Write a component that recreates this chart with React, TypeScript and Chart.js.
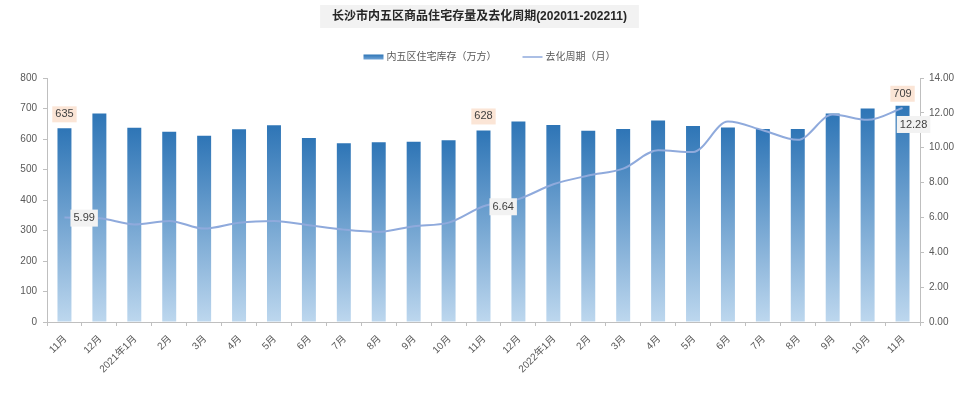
import React, { useEffect, useRef } from "react";
import { Chart, registerables } from "chart.js";

Chart.register(...registerables);

const titleText = "长沙市内五区商品住宅存量及去化周期(202011-202211)";
const barLabel = "内五区住宅库存（万方）";
const lineLabel = "去化周期（月）";
const categories = [
  "11月", "12月", "2021年1月", "2月", "3月", "4月", "5月", "6月", "7月", "8月", "9月", "10月",
  "11月", "12月", "2022年1月", "2月", "3月", "4月", "5月", "6月", "7月", "8月", "9月", "10月", "11月",
];
const inventory = [
  635, 684, 637, 624, 611, 632, 645, 603, 586, 589, 591, 596,
  628, 657, 646, 627, 633, 661, 643, 638, 633, 633, 684, 700, 709,
];
const cycle = [
  5.99, 5.95, 5.6, 5.8, 5.36, 5.7, 5.8, 5.55, 5.3, 5.17, 5.5, 5.7,
  6.64, 7.05, 7.9, 8.4, 8.8, 9.85, 9.75, 11.5, 11.0, 10.45, 11.9, 11.6, 12.28,
];
const labeledIndices = [0, 12, 24];
const leftMax = 800;
const leftStep = 100;
const rightMax = 14;
const rightStep = 2;

const FONT = "'Liberation Sans', Arial, 'Noto Sans CJK SC', sans-serif";
const TEXT = "#595959";
const AXIS = "#bfbfbf";
const BAR_TOP = "#2e75b6";
const BAR_BOTTOM = "#bdd7ee";
const LINE = "#8faadc";

const overlayPlugin = {
  id: "overlay",
  afterDraw(chart: any) {
    const ctx = chart.ctx as CanvasRenderingContext2D;
    const W = chart.width;
    ctx.save();
    // title
    ctx.font = `bold 12px ${FONT}`;
    const tw = ctx.measureText(titleText).width;
    const cx = W / 2 - 7;
    ctx.fillStyle = "#f2f2f2";
    ctx.fillRect(cx - tw / 2 - 12, 5, tw + 24, 23);
    ctx.fillStyle = "#262626";
    ctx.textAlign = "center";
    ctx.textBaseline = "middle";
    ctx.fillText(titleText, cx, 17);

    // legend
    ctx.font = `10px ${FONT}`;
    const w1 = ctx.measureText(barLabel).width;
    const w2 = ctx.measureText(lineLabel).width;
    const sw = 20;
    const gap = 26;
    const total = sw + 3 + w1 + gap + sw + 3 + w2;
    let x = W / 2 + 3 - total / 2;
    const ly = 57;
    const lg = ctx.createLinearGradient(0, ly - 2.5, 0, ly + 2.5);
    lg.addColorStop(0, "#2e75b6");
    lg.addColorStop(1, "#6fa3d6");
    ctx.fillStyle = lg;
    ctx.fillRect(x, ly - 2.5, sw, 5);
    x += sw + 3;
    ctx.fillStyle = TEXT;
    ctx.textAlign = "left";
    ctx.fillText(barLabel, x, ly);
    x += w1 + gap;
    ctx.strokeStyle = LINE;
    ctx.lineWidth = 1.5;
    ctx.beginPath();
    ctx.moveTo(x, ly);
    ctx.lineTo(x + sw, ly);
    ctx.stroke();
    x += sw + 3;
    ctx.fillText(lineLabel, x, ly);

    // data labels
    const barMeta = chart.getDatasetMeta(0);
    const lineMeta = chart.getDatasetMeta(1);
    ctx.font = `11px ${FONT}`;
    ctx.textAlign = "center";
    ctx.textBaseline = "middle";
    labeledIndices.forEach((i) => {
      const bar = barMeta.data[i];
      const t1 = String(inventory[i]);
      const bw = ctx.measureText(t1).width + 6;
      const bh = 16;
      const by = bar.y - 6 - bh / 2 - (i === labeledIndices[labeledIndices.length - 1] ? -2 : 0);
      ctx.fillStyle = "#fbe5d6";
      ctx.fillRect(bar.x - bw / 2, by - bh / 2, bw, bh);
      ctx.fillStyle = "#404040";
      ctx.fillText(t1, bar.x, by);

      const pt = lineMeta.data[i];
      const t2 = cycle[i].toFixed(2);
      const pw = ctx.measureText(t2).width + 6;
      const isLast = i === categories.length - 1;
      const px = isLast ? pt.x + 11 : pt.x + 6 + pw / 2;
      const py = isLast ? pt.y + 16 : pt.y;
      ctx.fillStyle = "#f2f2f2";
      ctx.fillRect(px - pw / 2, py - bh / 2, pw, bh + 1);
      ctx.fillStyle = "#404040";
      ctx.fillText(t2, px, py + 0.5);
    });
    ctx.restore();
  },
};

export default function App() {
  const ref = useRef<HTMLCanvasElement>(null);
  useEffect(() => {
    if (!ref.current) return;
    const chart = new Chart(ref.current, {
      type: "bar",
      data: {
        labels: categories,
        datasets: [
          {
            type: "bar",
            label: barLabel,
            data: inventory,
            yAxisID: "y",
            order: 1,
            barPercentage: 0.4,
            categoryPercentage: 1,
            backgroundColor: (c: any) => {
              const ch = c.chart;
              const area = ch.chartArea;
              if (!area || c.raw == null) return BAR_TOP;
              const top = ch.scales.y.getPixelForValue(c.raw);
              const g = ch.ctx.createLinearGradient(0, top, 0, area.bottom);
              g.addColorStop(0, BAR_TOP);
              g.addColorStop(1, BAR_BOTTOM);
              return g;
            },
            borderWidth: 0,
          },
          {
            type: "line",
            label: lineLabel,
            data: cycle,
            yAxisID: "y1",
            order: 0,
            borderColor: LINE,
            borderWidth: 2,
            pointRadius: 0,
            tension: 0.4,
            cubicInterpolationMode: "monotone",
            fill: false,
          },
        ],
      },
      options: {
        responsive: true,
        maintainAspectRatio: false,
        animation: false,
        layout: { padding: { top: 78, left: 0, right: 0, bottom: 0 } },
        plugins: {
          legend: { display: false },
          title: { display: false },
          tooltip: { enabled: false },
        },
        scales: {
          x: {
            grid: {
              display: true,
              drawOnChartArea: false,
              offset: true,
              tickLength: 4,
              color: AXIS,
            },
            border: { display: true, color: AXIS },
            ticks: {
              autoSkip: false,
              minRotation: 45,
              maxRotation: 45,
              color: TEXT,
              font: { family: FONT, size: 10 },
              padding: 7,
              labelOffset: 1,
            },
            afterFit: (s: any) => {
              s.height = 71;
            },
          },
          y: {
            position: "left",
            min: 0,
            max: leftMax,
            grid: { display: true, drawOnChartArea: false, tickLength: 4, color: AXIS },
            border: { display: true, color: AXIS },
            ticks: {
              stepSize: leftStep,
              color: TEXT,
              font: { family: FONT, size: 10 },
              padding: 6,
            },
            afterFit: (s: any) => {
              s.width = 47;
            },
          },
          y1: {
            position: "right",
            min: 0,
            max: rightMax,
            grid: { display: true, drawOnChartArea: false, tickLength: 4, color: AXIS },
            border: { display: true, color: AXIS },
            ticks: {
              stepSize: rightStep,
              color: TEXT,
              font: { family: FONT, size: 10 },
              padding: 5,
              callback: (v: any) => Number(v).toFixed(2),
            },
            afterFit: (s: any) => {
              s.width = 53;
            },
          },
        },
      },
      plugins: [overlayPlugin],
    } as any);
    return () => chart.destroy();
  }, []);
  return (
    <div style={{ position: "absolute", left: 0, top: 0, width: 973, height: 393, background: "#fff" }}>
      <canvas ref={ref} />
    </div>
  );
}
